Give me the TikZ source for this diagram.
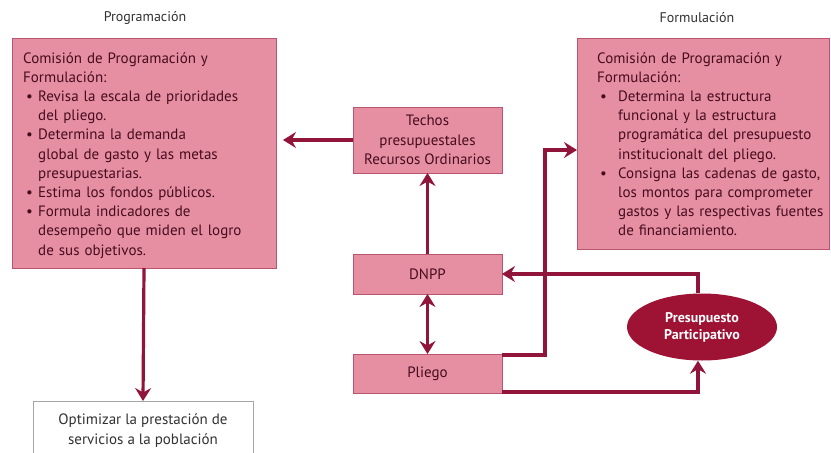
\documentclass[tikz,border=0pt]{standalone}
\usepackage{fontspec}
\setmainfont{PT Sans}
\usetikzlibrary{arrows.meta,shapes.geometric}
\definecolor{boxfill}{RGB}{230,143,162}
\definecolor{boxdraw}{RGB}{185,85,110}
\definecolor{txt}{RGB}{70,12,30}
\definecolor{arr}{RGB}{145,20,58}
\definecolor{ellfill}{RGB}{158,18,52}
\definecolor{ttl}{RGB}{50,50,50}
\newcommand\bulA[1]{\par\hangindent=15pt\hangafter=1\noindent\makebox[15pt][l]{\hspace{3pt}\textbullet}#1}
\newcommand\bulB[1]{\par\hangindent=21pt\hangafter=1\noindent\makebox[21pt][l]{\hspace{3pt}\textbullet}#1}
\begin{document}
\begin{tikzpicture}[x=1pt,y=-1pt,
  pinkbox/.style={draw=boxdraw, fill=boxfill, line width=0.8pt, inner sep=0pt, outer sep=0pt},
  bodytext/.style={anchor=base west, inner sep=0pt, text=txt, font=\fontsize{15}{19.2}\selectfont},
  centertext/.style={text=txt, align=center, font=\fontsize{15}{19.2}\selectfont},
  titletext/.style={text=ttl, font=\fontsize{14}{16}\selectfont},
  tip/.tip={Stealth[length=13pt,width=16pt,inset=4.5pt]},
  conn/.style={draw=arr, line width=3.2pt, -tip},
  conn2/.style={draw=arr, line width=3.2pt, tip-tip}
]
\clip (0,0) rectangle (831,453);
\fill[white] (0,0) rectangle (831,453);

% titles
\node[titletext] (tprog) at (145,18) {Programación};
\node[titletext] (tform) at (697,18) {Formulación};

% left box
\node[pinkbox, minimum width=264pt, minimum height=230pt, anchor=north west] (lbox) at (12,38) {};
\node[bodytext, text width=250pt] (ltext) at (23,63) {\parskip=0pt\raggedright
Comisión de Programación y\newline Formulación:
\bulA{Revisa la escala de prioridades\newline del pliego.}
\bulA{Determina la demanda\newline global de gasto y las metas\newline presupuestarias.}
\bulA{Estima los fondos públicos.}
\bulA{Formula indicadores de\newline desempeño que miden el logro\newline de sus objetivos.}\par};

% right box
\node[pinkbox, minimum width=252pt, minimum height=211pt, anchor=north west] (rbox) at (577,38) {};
\node[bodytext, text width=232pt] (rtext) at (597,63) {\parskip=0pt\raggedright
Comisión de Programación y\newline Formulación:
\bulB{Determina la estructura\newline funcional y la estructura\newline programática del presupuesto\newline institucionalt del pliego.}
\bulB{Consigna las cadenas de gasto,\newline los montos para comprometer\newline gastos y las respectivas fuentes\newline de financiamiento.}\par};

% center boxes
\node[pinkbox, minimum width=149pt, minimum height=66pt, centertext] (techos) at (427.5,140) {Techos\\presupuestales\\Recursos Ordinarios};
\node[pinkbox, minimum width=149pt, minimum height=40pt, centertext] (dnpp) at (427.5,274) {DNPP};
\node[pinkbox, minimum width=149pt, minimum height=39pt, centertext] (pliego) at (427.5,373.5) {Pliego};

% ellipse
\node[ellipse, fill=ellfill, minimum width=150pt, minimum height=67pt, inner sep=0pt, text=white, align=center, font=\fontsize{14}{17}\selectfont\bfseries] (pp) at (702,327) {Presupuesto\\Participativo};

% bottom box
\node[draw=gray!70, fill=white, line width=1pt, minimum width=220pt, minimum height=60pt, anchor=north, inner sep=0pt] (opt) at (143,401) {};
\node[text=ttl, align=center, font=\fontsize{15}{20}\selectfont, inner sep=0pt] (opttext) at (143,431) {Optimizar la prestación de\\servicios a la población};

% connectors
\coordinate (r1) at (545,150);
\draw[conn, shorten >=7pt] (techos.west) -- (lbox.east |- techos.west);
\draw[conn] (dnpp.north) -- (techos.south);
\draw[conn2] (dnpp.south) -- (pliego.south |- pliego.north);
\draw[conn] ([yshift=-1pt]pliego.north east) -| (r1) -- (rbox.west |- r1);
\draw[conn] ([xshift=-4pt]pp.north) |- (dnpp.east);
\draw[conn] ([yshift=1pt]pliego.south east) -| ([xshift=-4pt]pp.south);
\draw[conn] (lbox.south) -- (opt.north);
\end{tikzpicture}
\end{document}
